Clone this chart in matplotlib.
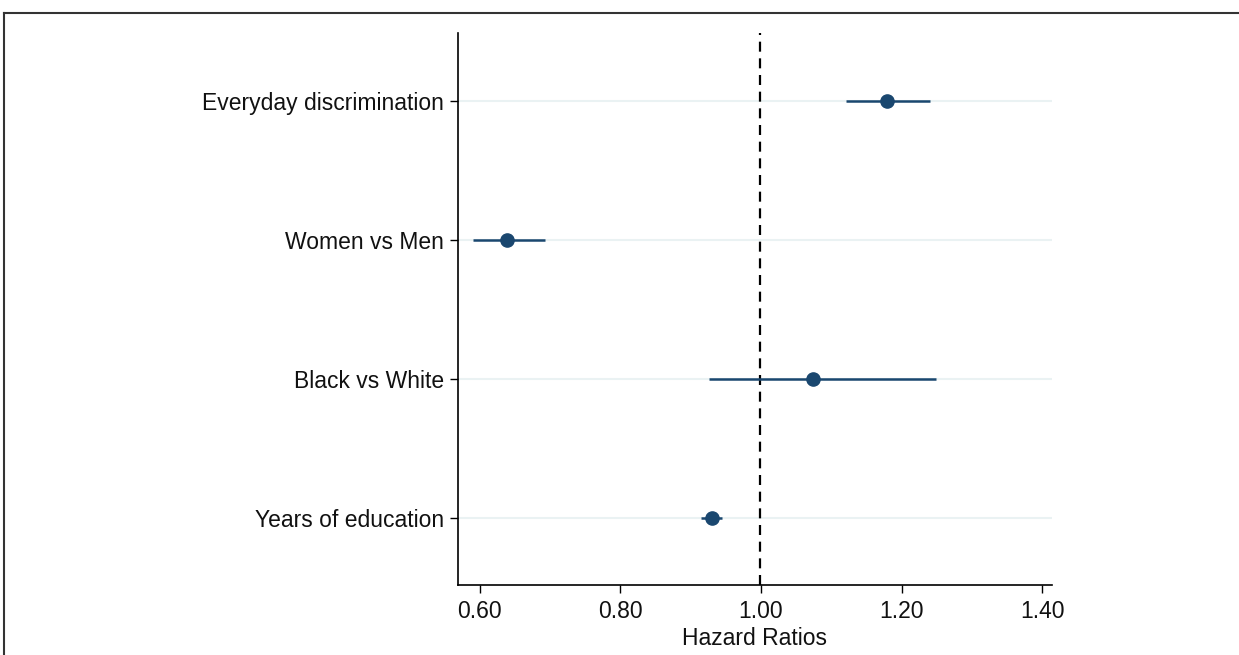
import matplotlib
matplotlib.use("Agg")
from matplotlib import pyplot as plt
from matplotlib.lines import Line2D

plt.rcParams['font.family'] = ['Liberation Sans', 'DejaVu Sans']

labels = ['Everyday discrimination', 'Women vs Men', 'Black vs White', 'Years of education']
hr = [1.18, 0.639, 1.074, 0.931]
ci_low = [1.121, 0.590, 0.926, 0.914]
ci_high = [1.241, 0.693, 1.249, 0.944]
xticks = [0.60, 0.80, 1.00, 1.20, 1.40]

navy = '#1a476f'
ypos = [4, 3, 2, 1]

fig = plt.figure(figsize=(12.39, 6.55), dpi=100)
ax = fig.add_axes([0.3697, 0.1069, 0.849 - 0.3697, 0.9496 - 0.1069])

for y in ypos:
    ax.axhline(y, color='#eaf2f3', lw=1.5, zorder=0)
ax.hlines(ypos, ci_low, ci_high, color=navy, lw=1.8, zorder=2)
ax.plot(hr, ypos, 'o', color=navy, ms=9.5, zorder=3)
ax.axvline(0.999, color='black', ls=(0, (4.5, 3)), lw=1.6, zorder=1)

ax.set_xlim(0.569, 1.414)
ax.set_ylim(0.52, 4.49)
ax.set_xticks(xticks)
ax.set_xticklabels(['%.2f' % t for t in xticks], fontsize=16.5, color='#111111')
ax.set_yticks(ypos)
ax.set_yticklabels(labels, fontsize=16.5, color='#111111')
ax.tick_params(axis='x', length=6, width=1, pad=5)
ax.tick_params(axis='y', length=6, width=1, pad=4)
ax.set_xlabel('Hazard Ratios', fontsize=16.5, labelpad=3, color='#111111')

ax.spines['top'].set_visible(False)
ax.spines['right'].set_visible(False)
ax.spines['left'].set_linewidth(1.2)
ax.spines['bottom'].set_linewidth(1.2)

# outer frame (top and left edges)
fig.add_artist(Line2D([4 / 1239, 1.0], [1 - 13 / 655, 1 - 13 / 655], color='#333333', lw=1.5, transform=fig.transFigure))
fig.add_artist(Line2D([4 / 1239, 4 / 1239], [0, 1 - 13 / 655], color='#333333', lw=1.5, transform=fig.transFigure))

fig.savefig('out.png', dpi=100)
